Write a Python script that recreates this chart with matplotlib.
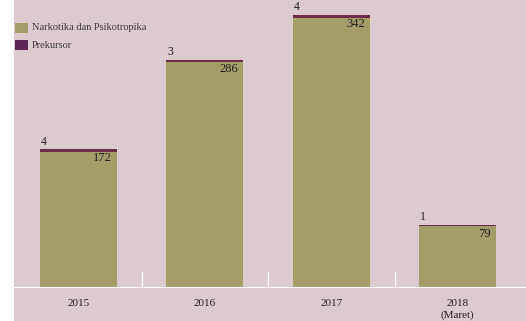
import matplotlib
matplotlib.use("Agg")
import matplotlib.pyplot as plt
from matplotlib.patches import Rectangle

categories = ["2015", "2016", "2017", "2018\n(Maret)"]
narkotika = [172, 286, 342, 79]
prekursor = [4, 3, 4, 1]

bg = "#dccbce"
olive = "#a39d69"
purple = "#5e2452"
topline = "#6a2c46"

W, H = 526, 321
fig = plt.figure(figsize=(W/100, H/100), dpi=100, facecolor="white")
fig.patches.append(Rectangle((14/W, 0), 1 - 14/W, 1, transform=fig.transFigure,
                             facecolor=bg, edgecolor="none", zorder=-10))

base_px = 288
ax = fig.add_axes([14/W, (H-base_px)/H, 1 - 14/W, base_px/H])
ax.patch.set_alpha(0)
for s in ax.spines.values():
    s.set_visible(False)

x = list(range(len(categories)))
bw = 0.61
ax.bar(x, narkotika, width=bw, color=olive, zorder=2)
ax.bar(x, prekursor, width=bw, bottom=narkotika, color=topline, zorder=2)

ax.set_xlim(-0.51, 3.54)
ax.set_ylim(0, 365)

font = "Liberation Serif"
for i in x:
    top = narkotika[i] + prekursor[i]
    ax.text(i - bw/2 + 0.01, top + 2, str(prekursor[i]), ha="left", va="bottom",
            fontsize=8.5, family=font, color="#222222")
    ax.text(i + bw/2 - 0.04, top - 4, str(narkotika[i]), ha="right", va="top",
            fontsize=9, family=font, color="#222222")

ax.axhline(0, color="white", lw=1.5, zorder=3)
for m in [0.5, 1.5, 2.5]:
    ax.plot([m, m], [0, 20], color="white", lw=1.0, zorder=3)

ax.set_yticks([])
ax.set_xticks(x)
ax.set_xticklabels(categories, fontsize=8, family=font, color="#222222",
                   linespacing=1.35)
ax.tick_params(axis="x", length=0, pad=8)

# legend drawn as figure-level patches and text
sq_w, sq_h = 13, 10
legend_items = [("Narkotika dan Psikotropika", olive), ("Prekursor", purple)]
for k, (lab, col) in enumerate(legend_items):
    y_top = 23 + 17 * k
    fig.patches.append(Rectangle((15/W, 1 - (y_top + sq_h)/H), sq_w/W, sq_h/H,
                                 transform=fig.transFigure, facecolor=col,
                                 edgecolor="none", zorder=5))
    fig.text(32/W, 1 - (y_top + sq_h/2)/H, lab, ha="left", va="center",
             fontsize=7.5, family=font, color="#3a3a3a")

fig.savefig("out.png", dpi=100, facecolor=fig.get_facecolor())
